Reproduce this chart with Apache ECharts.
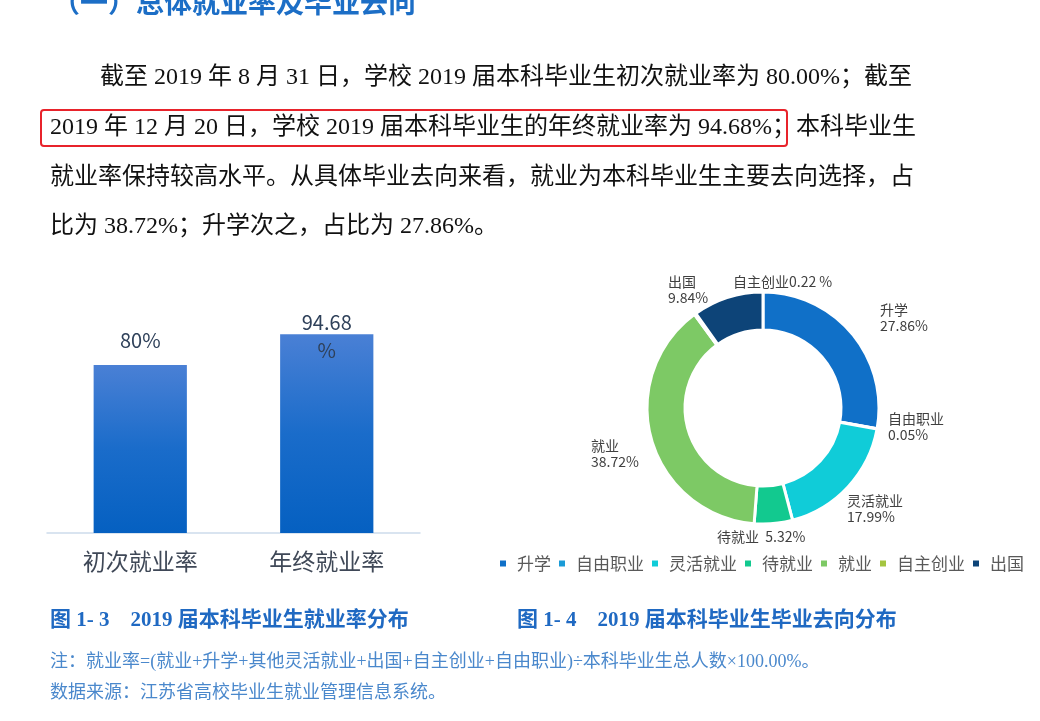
<!DOCTYPE html>
<html>
<head>
<meta charset="utf-8">
<script src="https://cdn.jsdelivr.net/npm/echarts@6/dist/echarts.min.js"></script>
<style>
html,body{margin:0;padding:0;background:#fff;}
#main{width:1040px;height:721px;}
</style>
</head>
<body>
<div id="main"></div>
<script>
// ---- data ----
const headingText = '（一）总体就业率及毕业去向';
const paragraphLines = [
  '截至 2019 年 8 月 31 日，学校 2019 届本科毕业生初次就业率为 80.00%；截至',
  '2019 年 12 月 20 日，学校 2019 届本科毕业生的年终就业率为 94.68%；本科毕业生',
  '就业率保持较高水平。从具体毕业去向来看，就业为本科毕业生主要去向选择，占',
  '比为 38.72%；升学次之，占比为 27.86%。'
];
const barCategories = ['初次就业率', '年终就业率'];
const barValues = [80, 94.68];
const barLabels = ['80%', '94.68\n%'];
const pieNames = ['升学', '自由职业', '灵活就业', '待就业', '就业', '自主创业', '出国'];
const pieValues = [27.86, 0.05, 17.99, 5.32, 38.72, 0.22, 9.84];
const pieLabels = ['升学\n27.86%', '自由职业\n0.05%', '灵活就业\n17.99%', '待就业  5.32%', '就业\n38.72%', '自主创业0.22 %', '出国\n9.84%'];
const captionTexts = ['图 1- 3　2019 届本科毕业生就业率分布', '图 1- 4　2019 届本科毕业生毕业去向分布'];
const noteTexts = [
  '注：就业率=(就业+升学+其他灵活就业+出国+自主创业+自由职业)÷本科毕业生总人数×100.00%。',
  '数据来源：江苏省高校毕业生就业管理信息系统。'
];

// ---- styles ----
const pieColors = ['#1070c8', '#1a9bd7', '#10ccd8', '#12c98f', '#7dc965', '#a4c540', '#0d4478'];
const pieLabelPos = [[880, 302], [888, 411], [847, 493], [717, 529], [591, 438], [733, 274], [668, 274]];
const serif = "'Liberation Serif','Noto Sans CJK SC',serif";
const sans = "'Noto Sans CJK SC','Noto Sans',sans-serif";

const chart = echarts.init(document.getElementById('main'));

const graphics = [];
graphics.push({
  type: 'text', left: 52, top: -12,
  style: { text: headingText, fill: '#1c6ec6', font: "bold 28px 'Noto Sans CJK SC'" }
});
const paraX = [100, 50, 50, 50];
const paraY = [78, 128, 178, 227];
paragraphLines.forEach((t, i) => {
  graphics.push({
    type: 'text', x: paraX[i], y: paraY[i],
    style: { text: t, fill: '#111', fontSize: 24, fontFamily: serif, verticalAlign: 'middle', align: 'left' }
  });
});
graphics.push({
  type: 'rect', shape: { x: 41, y: 110, width: 746, height: 36, r: 3 },
  style: { fill: 'none', stroke: '#e8232b', lineWidth: 2 }
});
const capX = [50, 517];
captionTexts.forEach((t, i) => {
  graphics.push({
    type: 'text', x: capX[i], y: 621,
    style: { text: t, fill: '#1f69c2', fontSize: 21, fontWeight: 'bold', fontFamily: serif, verticalAlign: 'middle' }
  });
});
const noteY = [662, 693];
noteTexts.forEach((t, i) => {
  graphics.push({
    type: 'text', x: 50, y: noteY[i],
    style: { text: t, fill: '#4a88cc', fontSize: 18, fontFamily: serif, verticalAlign: 'middle' }
  });
});

const option = {
  animation: false,
  backgroundColor: '#fff',
  graphic: graphics,
  grid: { left: 47, width: 373, top: 323, height: 210, containLabel: false },
  xAxis: {
    type: 'category', data: barCategories,
    axisLine: { lineStyle: { color: '#cddcec', width: 1.5 } },
    axisTick: { show: false },
    axisLabel: { color: '#3f4857', fontSize: 23, fontFamily: sans, margin: 17 }
  },
  yAxis: { type: 'value', min: 0, max: 100, show: false, splitLine: { show: false } },
  legend: {
    data: pieNames, left: 493, top: 550, width: 560, orient: 'horizontal',
    icon: 'rect', itemWidth: 8, itemHeight: 8, itemGap: 6,
    textStyle: { color: '#595959', fontSize: 17, fontFamily: sans, padding: [0, 0, 0, 5] },
    selectedMode: false
  },
  series: [
    {
      type: 'bar', barWidth: '50%',
      data: barValues.map((v, i) => ({
        value: v,
        label: i === 1 ? { distance: 10, offset: [0, 40], lineHeight: 28 } : { distance: 10, lineHeight: 30 }
      })),
      itemStyle: {
        color: new echarts.graphic.LinearGradient(0, 0, 0, 1, [
          { offset: 0, color: '#4a80d5' },
          { offset: 0.5, color: '#1a6cca' },
          { offset: 1, color: '#0560c1' }
        ])
      },
      label: {
        show: true, position: 'top',
        formatter: p => barLabels[p.dataIndex],
        color: '#2f415a', fontSize: 20, fontFamily: sans
      },
      emphasis: { disabled: true }
    },
    {
      type: 'pie', center: [763, 408], radius: [78, 116],
      startAngle: 90, clockwise: true,
      color: pieColors,
      itemStyle: { borderColor: '#fff', borderWidth: 3 },
      label: {
        show: true, position: 'outside',
        formatter: p => pieLabels[p.dataIndex],
        color: '#404040', fontSize: 14, lineHeight: 16, fontFamily: sans, align: 'left'
      },
      labelLine: { show: false },
      labelLayout: p => ({ x: pieLabelPos[p.dataIndex][0], y: pieLabelPos[p.dataIndex][1], align: 'left', verticalAlign: 'top' }),
      emphasis: { disabled: true },
      data: pieNames.map((n, i) => ({ name: n, value: pieValues[i] }))
    }
  ]
};
chart.setOption(option);
</script>
</body>
</html>
